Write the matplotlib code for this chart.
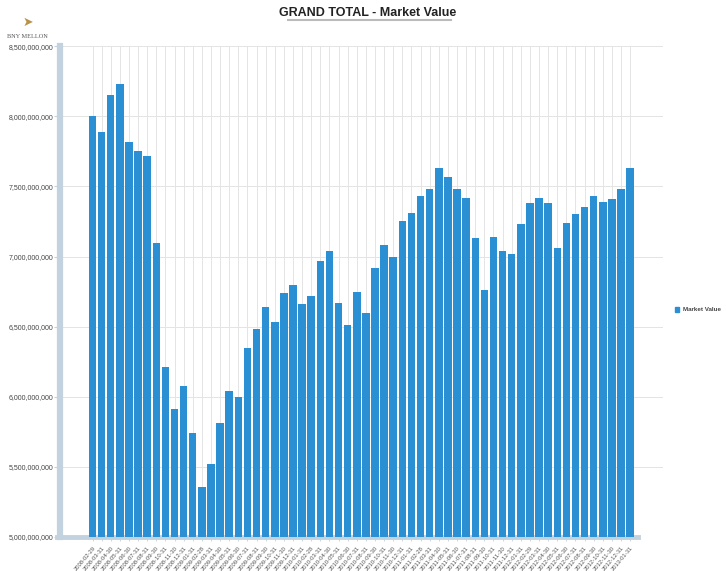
import matplotlib.pyplot as plt
import matplotlib.ticker as mticker
import numpy as np

# month-end dates
dates = [
    "2008-02-29", "2008-03-31", "2008-04-30", "2008-05-31", "2008-06-30", "2008-07-31",
    "2008-08-31", "2008-09-30", "2008-10-31", "2008-11-30", "2008-12-31", "2009-01-31",
    "2009-02-28", "2009-03-31", "2009-04-30", "2009-05-31", "2009-06-30", "2009-07-31",
    "2009-08-31", "2009-09-30", "2009-10-31", "2009-11-30", "2009-12-31", "2010-01-31",
    "2010-02-28", "2010-03-31", "2010-04-30", "2010-05-31", "2010-06-30", "2010-07-31",
    "2010-08-31", "2010-09-30", "2010-10-31", "2010-11-30", "2010-12-31", "2011-01-31",
    "2011-02-28", "2011-03-31", "2011-04-30", "2011-05-31", "2011-06-30", "2011-07-31",
    "2011-08-31", "2011-09-30", "2011-10-31", "2011-11-30", "2011-12-31", "2012-01-31",
    "2012-02-29", "2012-03-31", "2012-04-30", "2012-05-31", "2012-06-30", "2012-07-31",
    "2012-08-31", "2012-09-30", "2012-10-31", "2012-11-30", "2012-12-31", "2013-01-31",
]

# market value in billions
market_value = [
    8.00, 7.89, 8.15, 8.23, 7.82, 7.75, 7.72, 7.10, 6.21, 5.91, 6.08, 5.74,
    5.36, 5.52, 5.81, 6.04, 6.00, 6.35, 6.48, 6.64, 6.53, 6.74, 6.80, 6.66,
    6.72, 6.97, 7.04, 6.67, 6.51, 6.75, 6.60, 6.92, 7.08, 7.00, 7.25, 7.31,
    7.43, 7.48, 7.63, 7.57, 7.48, 7.42, 7.13, 6.76, 7.14, 7.04, 7.02, 7.23,
    7.38, 7.42, 7.38, 7.06, 7.24, 7.30, 7.35, 7.43, 7.39, 7.41, 7.48, 7.63,
]

y_ticks = [5.0e9, 5.5e9, 6.0e9, 6.5e9, 7.0e9, 7.5e9, 8.0e9, 8.5e9]

bar_color = "#2b8fd3"
axis_color = "#c3d2df"
grid_color = "#e4e4e4"

plt.rcParams["font.family"] = ["Liberation Sans", "DejaVu Sans"]

fig = plt.figure(figsize=(7.26, 5.71), dpi=100)
ax = fig.add_axes([0.0826, 0.0595, 0.8306, 0.8596])

x = np.arange(len(dates))
vals = np.array(market_value) * 1e9
ax.bar(x, vals, width=0.82, color=bar_color, zorder=3)

ax.set_ylim(5.0e9, 8.5e9)
ax.set_xlim(-3.57, 62.6)

ax.set_yticks(y_ticks)
ax.yaxis.set_major_formatter(mticker.FuncFormatter(lambda v, p: f"{v:,.0f}"))
ax.yaxis.set_minor_locator(mticker.MultipleLocator(0.25e9))
ax.tick_params(axis="y", which="major", labelsize=5, labelcolor="#444444",
               length=4, color=axis_color, width=0.8, pad=1)
ax.tick_params(axis="y", which="minor", length=0)

ax.set_xticks(x)
ax.set_xticklabels(dates, rotation=50, ha="right", rotation_mode="anchor",
                   fontsize=4.2, color="#555555")
ax.tick_params(axis="x", length=3, color=axis_color, width=0.6, pad=3)

# grid: horizontal at major y ticks, vertical at each category
for yv in y_ticks:
    ax.axhline(yv, color=grid_color, lw=0.7, zorder=1)
for xv in x:
    ax.axvline(xv, color=grid_color, lw=0.7, zorder=1)

for s in ["top", "right"]:
    ax.spines[s].set_visible(False)
ax.spines["left"].set_color(axis_color)
ax.spines["left"].set_linewidth(4.5)
ax.spines["bottom"].set_color(axis_color)
ax.spines["bottom"].set_linewidth(3.5)
ax.spines["bottom"].set_bounds(-3.9, 59.9)

# title with underline
fig.text(0.507, 0.977, "GRAND TOTAL - Market Value", ha="center", va="center",
         fontsize=9, fontweight="bold", color="#222222")
fig.add_artist(plt.Line2D([0.397, 0.621], [0.965, 0.965], color="#bbbbbb", lw=1.5))

# logo
fig.text(0.038, 0.961, "\u27a4", ha="center", va="center", fontsize=9,
         color="#b8924a", family=["DejaVu Sans"])
fig.text(0.038, 0.936, "BNY MELLON", ha="center", va="center", fontsize=4.5,
         color="#555555", family=["Liberation Serif", "DejaVu Serif"])

# legend
fig.patches.append(plt.Rectangle((0.930, 0.453), 0.0055, 0.009, color=bar_color,
                                 transform=fig.transFigure, figure=fig))
fig.text(0.941, 0.458, "Market Value", ha="left", va="center", fontsize=4.5,
         fontweight="bold", color="#444444")

fig.savefig("out.png", dpi=100)
